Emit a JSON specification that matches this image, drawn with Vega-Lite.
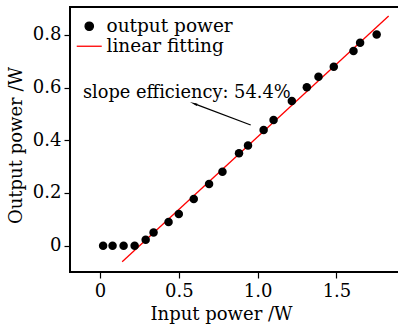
{
  "$schema": "https://vega.github.io/schema/vega-lite/v6.json",
  "width": 330,
  "height": 265,
  "autosize": {"type": "none"},
  "padding": {"left": 70, "top": 7, "right": 0, "bottom": 55},
  "background": "white",
  "config": {
    "font": "DejaVu Serif",
    "view": {"stroke": "black", "strokeWidth": 2},
    "axis": {
      "grid": false, "domain": false, "tickColor": "black", "tickSize": 6, "tickWidth": 1.2,
      "labelFont": "DejaVu Serif", "labelFontSize": 18, "labelColor": "black",
      "titleFont": "DejaVu Serif", "titleFontSize": 18, "titleFontWeight": "normal", "titleColor": "black"
    }
  },
  "datasets": {
    "pts": [
      {"x": 0.02, "y": 0.0}, {"x": 0.08, "y": 0.0}, {"x": 0.15, "y": 0.0}, {"x": 0.22, "y": 0.0},
      {"x": 0.29, "y": 0.022}, {"x": 0.34, "y": 0.05}, {"x": 0.435, "y": 0.09}, {"x": 0.50, "y": 0.12},
      {"x": 0.595, "y": 0.177}, {"x": 0.692, "y": 0.234}, {"x": 0.777, "y": 0.281}, {"x": 0.882, "y": 0.351},
      {"x": 0.939, "y": 0.380}, {"x": 1.038, "y": 0.439}, {"x": 1.101, "y": 0.477}, {"x": 1.217, "y": 0.549},
      {"x": 1.312, "y": 0.601}, {"x": 1.386, "y": 0.641}, {"x": 1.483, "y": 0.679}, {"x": 1.608, "y": 0.739},
      {"x": 1.650, "y": 0.770}, {"x": 1.755, "y": 0.802}
    ],
    "fit": [{"x": 0.141, "y": -0.061}, {"x": 1.831, "y": 0.872}],
    "ann": [{"x": -0.108, "y": 0.579, "label": "slope efficiency: 54.4%", "hx": 0.601, "hy": 0.538, "tx": 0.956, "ty": 0.458}]
  },
  "layer": [
    {
      "data": {"name": "fit"},
      "mark": {"type": "line", "strokeWidth": 1.3, "clip": true},
      "encoding": {
        "x": {"field": "x", "type": "quantitative", "scale": {"domain": [-0.19, 1.903], "nice": false, "zero": false},
          "axis": {"values": [0, 0.5, 1.0, 1.5], "labelExpr": "datum.value == 0 ? '0' : format(datum.value, '.1f')", "title": "Input power /W", "titleX": 151, "titlePadding": 5, "labelPadding": 4}},
        "y": {"field": "y", "type": "quantitative", "scale": {"domain": [-0.1, 0.906], "nice": false, "zero": false},
          "axis": {"values": [0, 0.2, 0.4, 0.6, 0.8], "labelExpr": "datum.value == 0 ? '0' : format(datum.value, '.1f')", "title": "Output power /W", "titleY": 138, "titlePadding": 7, "labelPadding": 3}},
        "color": {"datum": "linear fitting", "type": "nominal",
          "scale": {"domain": ["output power", "linear fitting"], "range": ["black", "red"]},
          "legend": {
            "title": null, "orient": "top-left", "offset": 6, "labelFont": "DejaVu Serif", "labelFontSize": 18.5, "labelColor": "black",
            "rowPadding": 1, "symbolOffset": 0, "labelOffset": 8, "padding": 4, "fillColor": "white",
            "encode": {"symbols": {"update": {
              "shape": {"signal": "datum.value === 'linear fitting' ? 'stroke' : 'circle'"},
              "size": {"signal": "datum.value === 'linear fitting' ? 625 : 70"},
              "fill": {"signal": "datum.value === 'linear fitting' ? 'transparent' : 'black'"},
              "stroke": {"signal": "datum.value === 'linear fitting' ? 'red' : 'black'"},
              "strokeWidth": {"value": 1.3}
            }}}
          }
        }
      }
    },
    {
      "data": {"name": "pts"},
      "mark": {"type": "point", "filled": true, "size": 72, "opacity": 1},
      "encoding": {
        "x": {"field": "x", "type": "quantitative"},
        "y": {"field": "y", "type": "quantitative"},
        "color": {"datum": "output power", "type": "nominal"}
      }
    },
    {
      "data": {"name": "ann"},
      "mark": {"type": "rule", "color": "black", "strokeWidth": 1.3},
      "encoding": {
        "x": {"field": "hx", "type": "quantitative"},
        "y": {"field": "hy", "type": "quantitative"},
        "x2": {"field": "tx"},
        "y2": {"field": "ty"}
      }
    },
    {
      "data": {"name": "ann"},
      "mark": {"type": "point", "shape": "wedge", "angle": 291, "size": 80, "filled": true, "color": "black", "opacity": 1},
      "encoding": {
        "x": {"field": "hx", "type": "quantitative"},
        "y": {"field": "hy", "type": "quantitative"}
      }
    },
    {
      "data": {"name": "ann"},
      "mark": {"type": "text", "align": "left", "baseline": "middle", "font": "DejaVu Serif", "fontSize": 17.8, "color": "black"},
      "encoding": {
        "x": {"field": "x", "type": "quantitative"},
        "y": {"field": "y", "type": "quantitative"},
        "text": {"field": "label"}
      }
    }
  ]
}
